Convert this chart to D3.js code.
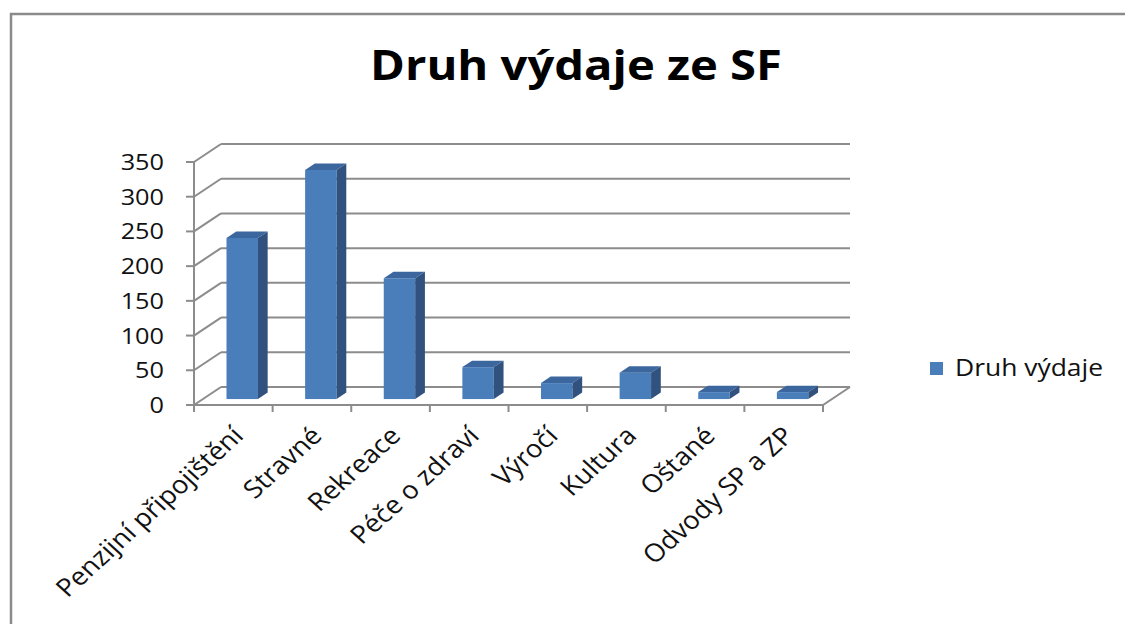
<!DOCTYPE html>
<html><head><meta charset="utf-8">
<script src="https://cdn.jsdelivr.net/npm/d3@7"></script>
<style>html,body{margin:0;padding:0;background:#fff;}svg{display:block;}</style>
</head><body>
<svg id="c" width="1125" height="624"></svg>
<script>
const title = "Druh výdaje ze SF";
const seriesName = "Druh výdaje";
const categories = ["Penzijní připojištění","Stravné","Rekreace","Péče o zdraví","Výročí","Kultura","Oštané","Odvody SP a ZP"];
const values = [232, 330, 174, 46, 23, 38, 10, 10];
const yTicks = [0, 50, 100, 150, 200, 250, 300, 350];

const svg = d3.select("#c");
const FONT = "'Open Sans', 'DejaVu Sans', sans-serif";
const SX = 1.15; // horizontal text stretch like reference

// frame
svg.append("path").attr("d","M11,624V14H1125").attr("fill","none").attr("stroke","#8a8a8a").attr("stroke-width",2.5);

// 3D geometry
const x = d3.scaleBand().domain(categories).range([194, 823]).paddingInner(0).paddingOuter(0);
const y = d3.scaleLinear().domain([0, 350]).range([405, 162]);
const DX = 27, DY = -18;
const gridC = "#8c8c8c";

const g = svg.append("g");
yTicks.forEach(v => {
  g.append("line").attr("x1", x.range()[0]+DX).attr("x2", x.range()[1]+DX)
   .attr("y1", y(v)+DY).attr("y2", y(v)+DY).attr("stroke", gridC).attr("stroke-width",2);
  g.append("line").attr("x1", x.range()[0]).attr("x2", x.range()[0]+DX)
   .attr("y1", y(v)).attr("y2", y(v)+DY).attr("stroke", gridC).attr("stroke-width",2);
  g.append("line").attr("x1", x.range()[0]-8).attr("x2", x.range()[0])
   .attr("y1", y(v)).attr("y2", y(v)).attr("stroke", gridC).attr("stroke-width",2);
});
g.append("line").attr("x1",194).attr("x2",194).attr("y1",y(0)).attr("y2",y(350)).attr("stroke",gridC).attr("stroke-width",2);
g.append("path").attr("d",`M${x.range()[0]},${y(0)}H${x.range()[1]}l${DX},${DY}`).attr("fill","none").attr("stroke",gridC).attr("stroke-width",2);
const bounds = categories.map(c => x(c)).concat([x.range()[1]]);
bounds.forEach(b => g.append("line").attr("x1",b).attr("x2",b).attr("y1",y(0)).attr("y2",y(0)+7).attr("stroke",gridC).attr("stroke-width",2));

// y labels
yTicks.forEach(v => {
  svg.append("text").attr("transform",`translate(164,${y(v)+8}) scale(${SX},1)`)
    .attr("text-anchor","end").attr("font-family",FONT).attr("font-size",22).attr("fill","#111").text(v);
});

// bars
const t0 = 0.33, t1 = 0.69;
const bw = x.bandwidth()*0.4;
const bars = svg.append("g");
categories.forEach((c,i) => {
  const v = values[i];
  const cx = x(c) + x.bandwidth()/2;
  const xl = cx - bw/2 + t0*DX, xr = cx + bw/2 + t0*DX;
  const yb = y(0) + t0*DY, yt = y(v) + t0*DY;
  const ddx = (t1-t0)*DX, ddy = (t1-t0)*DY;
  bars.append("rect").attr("x",xl).attr("y",yt).attr("width",xr-xl).attr("height",yb-yt).attr("fill","#4a7ebb");
  bars.append("path").attr("d",`M${xl},${yt}L${xl+ddx},${yt+ddy}L${xr+ddx},${yt+ddy}L${xr},${yt}Z`).attr("fill","#3b679e");
  bars.append("path").attr("d",`M${xr},${yt}L${xr+ddx},${yt+ddy}L${xr+ddx},${yb+ddy}L${xr},${yb}Z`).attr("fill","#31527f");
});

// category labels
categories.forEach(c => {
  const cx = x(c) + x.bandwidth()/2;
  svg.append("text").attr("transform",`translate(${cx-3},${424}) scale(1.1,1) rotate(-45)`)
    .attr("text-anchor","end").attr("dy","0.75em").attr("font-family",FONT).attr("font-size",25).attr("fill","#111").text(c);
});

// title
svg.append("text").attr("transform",`translate(576,80) scale(${SX},1)`).attr("text-anchor","middle")
  .attr("font-family",FONT).attr("font-weight","bold").attr("font-size",41).attr("fill","#000").text(title);

// legend
svg.append("rect").attr("x",930).attr("y",362).attr("width",13).attr("height",13).attr("fill","#4a7ebb");
svg.append("text").attr("transform",`translate(955,376) scale(${SX},1)`).attr("font-family",FONT).attr("font-size",23).attr("fill","#111").text(seriesName);
</script>
</body></html>
